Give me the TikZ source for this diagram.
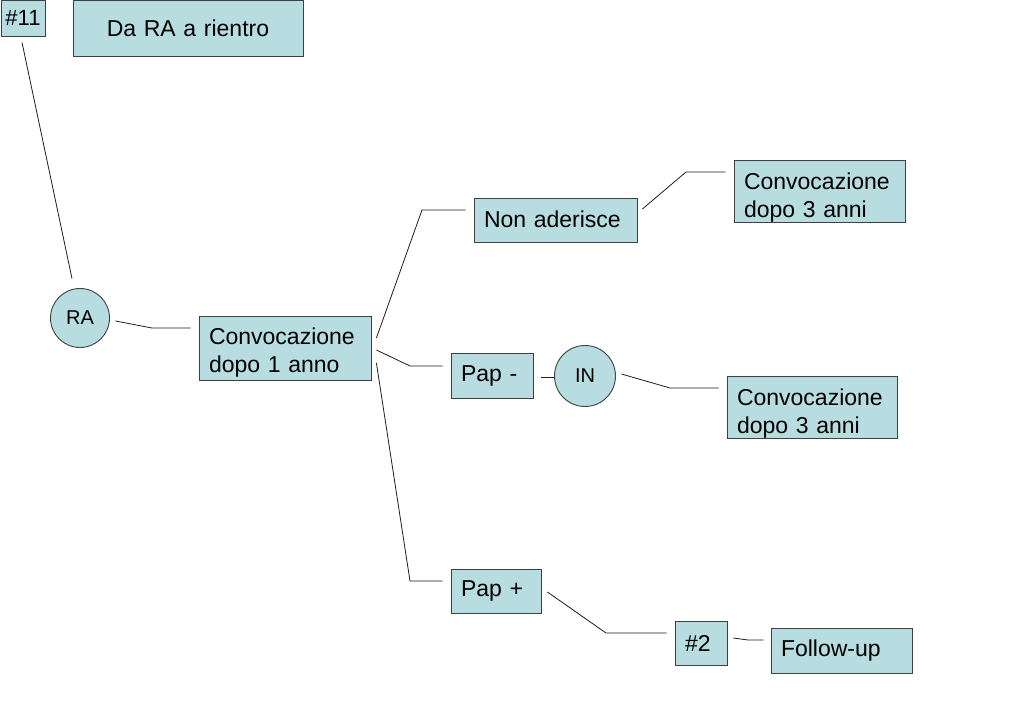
\documentclass[tikz,border=0pt]{standalone}
\usepackage{fontspec}
\setmainfont{Liberation Sans}
\definecolor{boxfill}{RGB}{183,221,225}
\definecolor{bordercol}{RGB}{64,64,64}
\definecolor{linecol}{RGB}{30,30,30}
\tikzset{
  box/.style={draw=bordercol, fill=boxfill, line width=0.8pt, font=\fontsize{23}{28}\selectfont,
    inner xsep=10pt, inner ysep=0pt, align=left},
  cbox/.style={box, align=center, inner xsep=0pt},
  circ/.style={circle, draw=bordercol, fill=boxfill, line width=0.9pt, inner sep=0pt,
    font=\fontsize{20}{24}\selectfont},
  conn/.style={draw=linecol, line width=0.8pt}
}
\begin{document}
\begin{tikzpicture}[x=1pt,y=-1pt]
\useasboundingbox (0,0) rectangle (1023,708);
\fill[white] (0,0) rectangle (1023,708);

\node[cbox, text width=44pt, minimum height=36pt, font=\fontsize{22}{26}\selectfont] (n11) at (23,18) {\#11};
\node[cbox, text width=230pt, minimum height=56pt] (title) at (188,28) {Da RA a rientro};
\node[circ, minimum size=59pt] (RA) at (80,318) {RA};
\node[box, text width=152pt, minimum height=64pt, text height=17pt, text depth=23.5pt] (conv1) at (285,348) {Convocazione\\dopo 1 anno};
\node[box, text width=143pt, minimum height=44pt] (nonad) at (555.5,220) {\raisebox{2pt}{Non aderisce}};
\node[box, text width=151pt, minimum height=62pt, text height=17pt, text depth=20pt] (conv3a) at (819.5,191) {Convocazione\\dopo 3 anni};
\node[box, text width=62pt, minimum height=45pt] (papm) at (492,375.5) {Pap -};
\node[circ, minimum size=61pt] (IN) at (585,376) {IN};
\node[box, text width=150pt, minimum height=62pt, text height=17pt, text depth=20.5pt] (conv3b) at (812,407) {Convocazione\\dopo 3 anni};
\node[box, text width=70pt, minimum height=44pt] (papp) at (496,591) {Pap +};
\node[box, text width=32pt, minimum height=44pt] (n2) at (701,643) {\#2};
\node[box, text width=121pt, minimum height=45pt] (follow) at (841.5,650.5) {Follow-up};

\draw[conn] ([shift={(-1,6)}]n11.south) -- ([shift={(-8,-9.5)}]RA.north);
\draw[conn] ([shift={(5.5,3)}]RA.east) -- (152,328) -- ([shift={(-8,-20)}]conv1.west);
\draw[conn] ([shift={(5,-10)}]conv1.east) -- (422,210) -- ([shift={(-8,-10)}]nonad.west);
\draw[conn] ([shift={(5,2)}]conv1.east) -- (410,366) -- ([shift={(-8,-9.5)}]papm.west);
\draw[conn] ([shift={(5,15)}]conv1.east) -- (410,581) -- ([shift={(-8,-10)}]papp.west);
\draw[conn] ([shift={(5,-11)}]nonad.east) -- (686,172) -- ([shift={(-8,-19)}]conv3a.west);
\draw[conn] ([shift={(8,1.5)}]papm.east) -- ([shift={(0,1)}]IN.west);
\draw[conn] ([shift={(5.5,-2)}]IN.east) -- (670,388) -- ([shift={(-8,-19)}]conv3b.west);
\draw[conn] ([shift={(6,1)}]papp.east) -- (606,633) -- ([shift={(-8,-10)}]n2.west);
\draw[conn] ([shift={(6,-5)}]n2.east) -- (748,640) -- ([shift={(-7,-10.5)}]follow.west);
\end{tikzpicture}
\end{document}
